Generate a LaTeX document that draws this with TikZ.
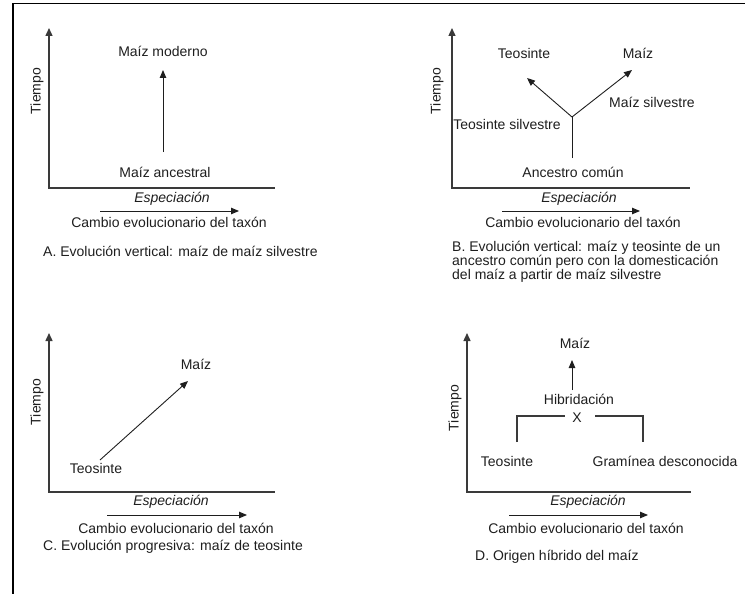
\documentclass[tikz,border=0pt]{standalone}
\usepackage{fontspec}
\setmainfont{Liberation Sans}
\usetikzlibrary{arrows.meta, positioning}
\definecolor{axgray}{HTML}{3A3A3A}
\definecolor{txtblack}{HTML}{1E1E1E}

\begin{document}
\begin{tikzpicture}[x=1pt, y=-1pt,
  every node/.style={font=\fontsize{14}{14}\selectfont, inner sep=0pt, text=txtblack},
  axis/.style={line width=1.4pt, draw=axgray, {Triangle[length=8pt, width=7pt]}-},
  evo/.style={line width=0.9pt, draw=txtblack, -{Triangle[length=8pt, width=6.5pt]}},
  brk/.style={line width=1.3pt, draw=axgray},
  spec/.style={font=\fontsize{14}{14}\selectfont\itshape},
  capt/.style={anchor=west, align=left},
]
\useasboundingbox (0,0) rectangle (745,594);
\draw[line width=1.4pt] (13,594) -- (13,3.5) -- (745,3.5);

% A
\coordinate (yA) at (49,28); \coordinate (oA) at (49,188); \coordinate (xA) at (275,188);
\draw[axis] (yA) -- (oA) -- (xA);
\node[rotate=90] (tA) at (37,91) {Tiempo};
\node (modA) at (163,51) {Maíz moderno};
\node (ancA) at (165,172) {Maíz ancestral};
\coordinate (aA1) at (163,152); \coordinate (aA2) at (163,70);
\draw[evo] (aA1) -- (aA2);
\node[spec] (espA) at (172,199) {Especiación};
\coordinate (cA1) at (100,211); \coordinate (cA2) at (239,211);
\draw[evo] (cA1) -- (cA2);
\node (camA) at (169,222) {Cambio evolucionario del taxón};
\node[capt] (capA) at (43,251) {A. Evolución vertical: maíz de maíz silvestre};

% B
\coordinate (yB) at (452,28); \coordinate (oB) at (452,188); \coordinate (xB) at (690,188);
\draw[axis] (yB) -- (oB) -- (xB);
\node[rotate=90] (tB) at (437,91) {Tiempo};
\node (teoB) at (524,53) {Teosinte};
\node (maizB) at (638,53) {Maíz};
\node (msB) at (652,102) {Maíz silvestre};
\node (tsB) at (507,124) {Teosinte silvestre};
\node (ancB) at (573,172) {Ancestro común};
\coordinate (brB) at (572,117); \coordinate (stB) at (572,158);
\coordinate (tlB) at (527,78); \coordinate (trB) at (632,70);
\draw[line width=0.9pt, draw=txtblack] (stB) -- (brB);
\draw[evo] (brB) -- (tlB);
\draw[evo] (brB) -- (trB);
\node[spec] (espB) at (579,199) {Especiación};
\coordinate (cB1) at (502,211); \coordinate (cB2) at (640,211);
\draw[evo] (cB1) -- (cB2);
\node (camB) at (583,222) {Cambio evolucionario del taxón};
\node[capt] (capB) at (452,262) {B. Evolución vertical: maíz y teosinte de un\\ancestro común pero con la domesticación\\del maíz a partir de maíz silvestre};

% C
\coordinate (yC) at (49,333); \coordinate (oC) at (49,492); \coordinate (xC) at (275,492);
\draw[axis] (yC) -- (oC) -- (xC);
\node[rotate=90] (tC) at (37,402) {Tiempo};
\node (maizC) at (196,364) {Maíz};
\node (teoC) at (96,468) {Teosinte};
\coordinate (aC1) at (100,460); \coordinate (aC2) at (188,381);
\draw[evo] (aC1) -- (aC2);
\node[spec] (espC) at (171,502) {Especiación};
\coordinate (cC1) at (107,515); \coordinate (cC2) at (247,515);
\draw[evo] (cC1) -- (cC2);
\node (camC) at (176,528) {Cambio evolucionario del taxón};
\node[capt] (capC) at (43,547) {C. Evolución progresiva: maíz de teosinte};

% D
\coordinate (yD) at (467,333); \coordinate (oD) at (467,492); \coordinate (xD) at (691,492);
\draw[axis] (yD) -- (oD) -- (xD);
\node[rotate=90] (tD) at (455,408) {Tiempo};
\node (maizD) at (575,343) {Maíz};
\node (hibD) at (579,399) {Hibridación};
\node (xxD) at (577,418) {X};
\coordinate (aD1) at (572,390); \coordinate (aD2) at (572,360);
\draw[evo] (aD1) -- (aD2);
\coordinate (bl1) at (517,442); \coordinate (bl2) at (517,416); \coordinate (bl3) at (565,416);
\coordinate (br1) at (595,416); \coordinate (br2) at (643,416); \coordinate (br3) at (643,442);
\draw[brk] (bl1) -- (bl2) -- (bl3);
\draw[brk] (br1) -- (br2) -- (br3);
\node (teoD) at (507,461) {Teosinte};
\node (graD) at (665,461) {Gramínea desconocida};
\node[spec] (espD) at (588,502) {Especiación};
\coordinate (cD1) at (509,515); \coordinate (cD2) at (648,515);
\draw[evo] (cD1) -- (cD2);
\node (camD) at (586,528) {Cambio evolucionario del taxón};
\node[capt] (capD) at (475,557) {D. Origen híbrido del maíz};
\end{tikzpicture}
\end{document}
